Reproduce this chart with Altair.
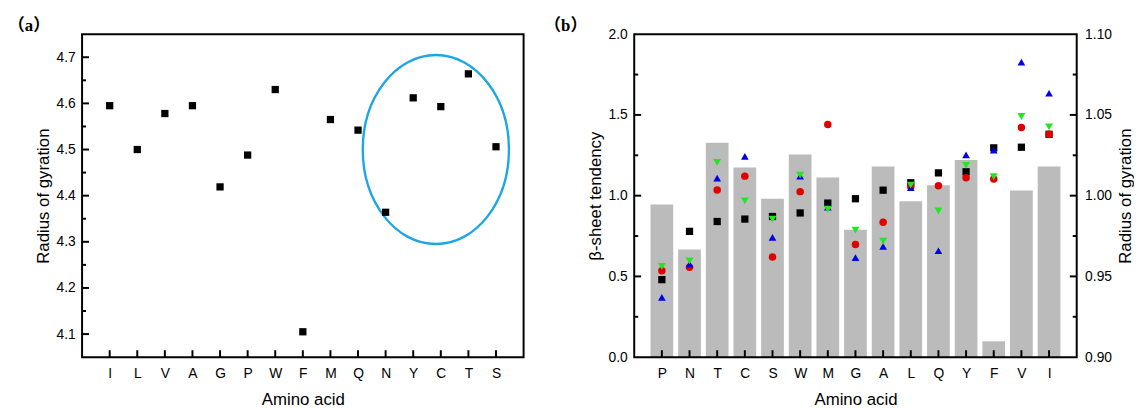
import altair as alt
import pandas as pd

# ---------------- data: panel (a) ----------------
aa_a = ["I", "L", "V", "A", "G", "P", "W", "F", "M", "Q", "N", "Y", "C", "T", "S"]
rg_a = [4.595, 4.500, 4.578, 4.595, 4.419, 4.488, 4.630, 4.105, 4.565, 4.542,
        4.364, 4.612, 4.593, 4.664, 4.506]
a_major = [4.1, 4.2, 4.3, 4.4, 4.5, 4.6, 4.7]
a_minor = [4.15, 4.25, 4.35, 4.45, 4.55, 4.65]
ellipse_cat = ["C"]
ellipse_rg = [4.5]

# ---------------- data: panel (b) ----------------
aa_b = ["P", "N", "T", "C", "S", "W", "M", "G", "A", "L", "Q", "Y", "F", "V", "I"]
rg_b = [0.9946, 0.9667, 1.0328, 1.0174, 0.9981, 1.0255, 1.0113, 0.9789, 1.0180,
        0.9966, 1.0064, 1.0221, 0.9098, 1.0032, 1.0180]
beta_black = [0.480, 0.779, 0.840, 0.855, 0.871, 0.893, 0.954, 0.981, 1.034,
              1.080, 1.141, 1.148, 1.296, 1.300, 1.380]
beta_red = [0.535, 0.557, 1.035, 1.121, 0.620, 1.025, 1.441, 0.698, 0.836,
            1.055, 1.062, 1.111, 1.103, 1.422, 1.380]
beta_blue = [0.370, 0.576, 1.109, 1.243, 0.742, 1.121, 0.928, 0.616, 0.686,
             1.050, 0.659, 1.253, 1.282, 1.827, 1.634]
beta_green = [0.562, 0.596, 1.206, 0.968, 0.855, 1.127, 0.916, 0.787, 0.718,
              1.065, 0.905, 1.188, 1.117, 1.490, 1.426]
series_names = ["black", "red", "blue", "green"]
series_colors = ["#000000", "#E00000", "#0000E6", "#22E622"]
series_shapes = ["square", "circle", "triangle-up", "triangle-down"]
series_sizes = [54, 64, 78, 78]
bl_major = [0.5, 1.0, 1.5]
bl_minor = [0.25, 0.75, 1.25, 1.75]
br_major = [0.95, 1.00, 1.05]
br_minor = [0.925, 0.975, 1.025, 1.075]

FONT = "Liberation Sans"
LABEL_FONT = "Liberation Serif, Noto Sans CJK KR"
WA, WB, H = 447, 448, 327
MAJ, MIN = 7, 4

ELLIPSE = ("M 0.7733 0 C 0.7733 0.5523 0.4271 1 0 1 C -0.4271 1 -0.7733 0.5523 -0.7733 0 "
           "C -0.7733 -0.5523 -0.4271 -1 0 -1 C 0.4271 -1 0.7733 -0.5523 0.7733 0 Z")

NOFRAME = dict(domain=False, grid=False)


def xcat(order, scale, axis=None):
    return alt.X("aa:N", sort=order, scale=scale, axis=axis)


def y_ticks(values, scale, length, right=False, width=0):
    df = pd.DataFrame({"v": values})
    cx = width - length / 2 if right else length / 2
    return alt.Chart(df).mark_tick(color="#000000", orient="horizontal", size=length,
                                   thickness=2, opacity=1).encode(
        y=alt.Y("v:Q", scale=scale, axis=None), x=alt.value(cx))


def x_ticks(cats, order, scale):
    df = pd.DataFrame({"aa": cats})
    return alt.Chart(df).mark_tick(color="#000000", orient="vertical", size=MAJ,
                                   thickness=2, opacity=1).encode(
        x=xcat(order, scale), y=alt.value(H - MAJ / 2))


def frame_rect(w):
    return alt.Chart(pd.DataFrame({"f": [0]})).mark_rect(
        filled=False, stroke="#000000", strokeWidth=2, fillOpacity=0).encode(
        x=alt.value(0), x2=alt.value(w), y=alt.value(0), y2=alt.value(H))


X_AXIS = dict(title="Amino acid", orient="bottom", ticks=False, labelAngle=0,
              labelPadding=10, titlePadding=11, **NOFRAME)

# ---------------- panel (a) ----------------
df_a = pd.DataFrame({"aa": aa_a, "rg": rg_a})
df_ell = pd.DataFrame({"aa": ellipse_cat, "rg": ellipse_rg})

xs_a = alt.Scale(type="point", padding=1)
ys_a = alt.Scale(domain=[4.05, 4.75], nice=False, zero=False)

pts_a = alt.Chart(df_a).mark_point(shape="square", filled=True, size=54, color="black", opacity=1).encode(
    x=xcat(aa_a, xs_a, alt.Axis(**X_AXIS)),
    y=alt.Y("rg:Q", scale=ys_a,
            axis=alt.Axis(title="Radius of gyration", orient="left", values=a_major, format=".1f",
                          ticks=False, labelPadding=7, titlePadding=4, **NOFRAME)),
)
ell = alt.Chart(df_ell).mark_point(shape=ELLIPSE, size=36634, filled=False, color="#1CA6E6",
                                   strokeWidth=2.4, opacity=1, xOffset=-5).encode(
    x=xcat(aa_a, xs_a),
    y=alt.Y("rg:Q", scale=ys_a, axis=None),
)

panel_a = alt.layer(
    frame_rect(WA),
    y_ticks(a_major, ys_a, MAJ), y_ticks(a_minor, ys_a, MIN),
    x_ticks(aa_a, aa_a, xs_a),
    ell, pts_a,
).resolve_axis(x="independent", y="independent").properties(
    width=WA, height=H,
    title=alt.TitleParams("（a）", anchor="start", frame="group", dx=-75, offset=-10, baseline="middle",
                          font=LABEL_FONT, fontSize=17, fontWeight="bold", color="black"),
)

# ---------------- panel (b) ----------------
df_b = pd.DataFrame({"aa": aa_b, "rg": rg_b})
rows = []
for name, vals in zip(series_names, [beta_black, beta_red, beta_blue, beta_green]):
    for a, v in zip(aa_b, vals):
        rows.append({"aa": a, "beta": v, "series": name})
df_pts = pd.DataFrame(rows)

xs_b = alt.Scale(type="point", padding=1)
ys_bl = alt.Scale(domain=[0, 2], nice=False, zero=False)
ys_br = alt.Scale(domain=[0.9, 1.1], nice=False, zero=False)

bars = alt.Chart(df_b).mark_bar(size=23, color="#BBBBBB").encode(
    x=xcat(aa_b, xs_b),
    y=alt.Y("rg:Q", scale=ys_br,
            axis=alt.Axis(title="Radius of gyration", orient="right", values=[0.9, 0.95, 1.0, 1.05, 1.1],
                          format=".2f", ticks=False, labelPadding=8, titlePadding=6,
                          titleAngle=270, titleBaseline="top", **NOFRAME)),
    y2=alt.datum(0.9),
)
pts_b = alt.Chart(df_pts).mark_point(filled=True, opacity=1).encode(
    x=xcat(aa_b, xs_b, alt.Axis(**X_AXIS)),
    y=alt.Y("beta:Q", scale=ys_bl,
            axis=alt.Axis(title="β-sheet tendency", orient="left", values=[0, 0.5, 1.0, 1.5, 2.0],
                          format=".1f", ticks=False, labelPadding=7, titlePadding=4, **NOFRAME)),
    color=alt.Color("series:N", scale=alt.Scale(domain=series_names, range=series_colors), legend=None),
    shape=alt.Shape("series:N", scale=alt.Scale(domain=series_names, range=series_shapes), legend=None),
    size=alt.Size("series:O", scale=alt.Scale(domain=series_names, range=series_sizes), legend=None),
)

panel_b = alt.layer(
    bars, frame_rect(WB),
    y_ticks(bl_major, ys_bl, MAJ), y_ticks(bl_minor, ys_bl, MIN),
    y_ticks(br_major, ys_br, MAJ, True, WB), y_ticks(br_minor, ys_br, MIN, True, WB),
    x_ticks(aa_b, aa_b, xs_b),
    pts_b,
).resolve_scale(y="independent").resolve_axis(x="independent", y="independent").properties(
    width=WB, height=H,
    title=alt.TitleParams("（b）", anchor="start", frame="group", dx=-91, offset=-16, baseline="middle",
                          font=LABEL_FONT, fontSize=17, fontWeight="bold", color="black"),
)

chart = alt.hconcat(panel_a, panel_b, spacing=20).properties(
    padding={"left": 0, "top": 7, "right": 0, "bottom": 0}
).configure_view(stroke=None).configure_axis(
    labelFont=FONT, titleFont=FONT, labelFontSize=14, titleFontSize=17,
    labelColor="black", titleColor="black", titleFontWeight="normal",
)

chart.save("out.html", embed_options={"renderer": "svg", "actions": False})
